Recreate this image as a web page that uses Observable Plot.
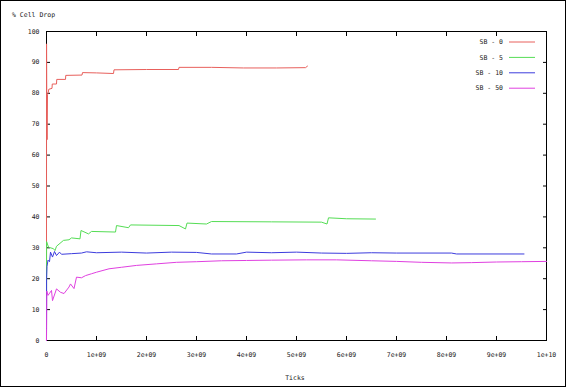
<!DOCTYPE html>
<html><head><meta charset="utf-8">
<script src="https://cdn.jsdelivr.net/npm/d3@7"></script>
<script src="https://cdn.jsdelivr.net/npm/@observablehq/plot@0.6"></script>
<style>
html,body{margin:0;padding:0;background:#fff;}
#wrap{position:relative;width:566px;height:387px;overflow:hidden;}
#border{position:absolute;left:0;top:0;width:566px;height:387px;box-sizing:border-box;border:1px solid #000;pointer-events:none;}
</style></head><body><div id="wrap"><div id="border"></div></div>
<script>
const seriesNames = ["SB - 0", "SB - 5", "SB - 10", "SB - 50"];
const seriesColors = ["#e8605c", "#55dd55", "#3c3cdd", "#e040e0"];

const sb0Ticks = [0, 0.001e9, 0.006e9, 0.012e9, 0.02e9, 0.035e9, 0.045e9, 0.11e9, 0.115e9, 0.2e9, 0.205e9, 0.38e9, 0.385e9, 0.71e9, 0.72e9, 1.0e9, 1.34e9, 1.35e9, 2.0e9, 2.64e9, 2.65e9, 3.3e9, 3.94e9, 4.6e9, 5.18e9, 5.22e9];
const sb0Drop  = [0, 96, 72, 65, 79.5, 80.3, 81.3, 81.6, 83.0, 83.0, 84.5, 84.5, 85.8, 85.9, 86.7, 86.6, 86.4, 87.6, 87.7, 87.7, 88.4, 88.4, 88.2, 88.2, 88.3, 88.8];

const sb5Ticks = [0, 0.002e9, 0.04e9, 0.14e9, 0.17e9, 0.2e9, 0.34e9, 0.45e9, 0.5e9, 0.67e9, 0.69e9, 0.84e9, 0.9e9, 1.38e9, 1.40e9, 1.64e9, 1.68e9, 2.65e9, 2.78e9, 2.81e9, 3.2e9, 3.3e9, 4.5e9, 5.5e9, 5.61e9, 5.64e9, 6.0e9, 6.58e9];
const sb5Drop  = [0, 32, 30.2, 29.7, 29.1, 30.5, 32.4, 32.6, 33.2, 32.9, 35.6, 34.5, 35.3, 35.1, 37.2, 36.5, 37.4, 37.2, 36.1, 38.0, 37.7, 38.5, 38.4, 38.3, 37.7, 39.7, 39.4, 39.3];

const sb10Ticks = [0, 0.002e9, 0.01e9, 0.03e9, 0.06e9, 0.08e9, 0.12e9, 0.16e9, 0.2e9, 0.26e9, 0.3e9, 0.5e9, 0.7e9, 0.8e9, 1.0e9, 1.5e9, 2.0e9, 2.5e9, 3.0e9, 3.3e9, 3.8e9, 4.0e9, 4.5e9, 5.0e9, 5.5e9, 6.0e9, 6.5e9, 7.0e9, 8.1e9, 8.2e9, 9.55e9];
const sb10Drop  = [0, 20, 24, 26, 25.5, 28.6, 27, 28.8, 27.5, 28.6, 27.9, 28.1, 28.3, 28.7, 28.4, 28.6, 28.3, 28.6, 28.5, 28.0, 28.0, 28.6, 28.4, 28.6, 28.3, 28.2, 28.4, 28.3, 28.3, 28.0, 28.0];

const sb50Ticks = [0, 0.002e9, 0.006e9, 0.03e9, 0.1e9, 0.12e9, 0.2e9, 0.28e9, 0.35e9, 0.45e9, 0.48e9, 0.55e9, 0.6e9, 0.7e9, 0.78e9, 0.9e9, 1.0e9, 1.25e9, 1.5e9, 1.8e9, 2.2e9, 2.6e9, 3.0e9, 3.5e9, 4.0e9, 4.5e9, 5.2e9, 5.8e9, 6.5e9, 7.0e9, 7.5e9, 8.1e9, 8.5e9, 9.0e9, 9.5e9, 10e9];
const sb50Drop  = [0, 4, 16, 14.6, 16.2, 12.9, 16.7, 15.6, 15.2, 17.3, 18.3, 16.8, 20.5, 20.3, 21.0, 21.6, 22.1, 23.2, 23.7, 24.3, 24.8, 25.3, 25.5, 25.8, 25.9, 26.0, 26.1, 26.1, 25.8, 25.6, 25.3, 25.1, 25.2, 25.4, 25.5, 25.6];

const xTicks = [0, 1e9, 2e9, 3e9, 4e9, 5e9, 6e9, 7e9, 8e9, 9e9, 1e10];
const xTickLabels = ["0", "1e+09", "2e+09", "3e+09", "4e+09", "5e+09", "6e+09", "7e+09", "8e+09", "9e+09", "1e+10"];
const yTicks = [0, 10, 20, 30, 40, 50, 60, 70, 80, 90, 100];
const yTickLabels = ["0", "10", "20", "30", "40", "50", "60", "70", "80", "90", "100"];
const yTitle = "% Cell Drop";
const xTitle = "Ticks";

const allX = [sb0Ticks, sb5Ticks, sb10Ticks, sb50Ticks];
const allY = [sb0Drop, sb5Drop, sb10Drop, sb50Drop];
const rows = [];
seriesNames.forEach((name, s) => {
  allX[s].forEach((x, i) => rows.push({series: name, x, y: allY[s][i]}));
});

const font = "'DejaVu Sans Mono', monospace";
const plot = Plot.plot({
  width: 566, height: 387,
  marginLeft: 46, marginRight: 20, marginTop: 31, marginBottom: 47,
  style: {fontFamily: font, fontSize: "6.5px", background: "transparent", color: "#222"},
  x: {domain: [0, 1e10]},
  y: {domain: [0, 100]},
  color: {domain: seriesNames, range: seriesColors},
  marks: [
    Plot.frame({stroke: "#000", strokeWidth: 1}),
    Plot.axisX(xTicks, {anchor: "bottom", tickSize: -4, tickPadding: 16, tickFormat: d => xTickLabels[xTicks.indexOf(d)], label: null, stroke: "#000"}),
    Plot.axisX(xTicks, {anchor: "top", tickSize: -4, tickFormat: () => "", label: null, stroke: "#000"}),
    Plot.axisY(yTicks, {anchor: "left", tickSize: -4, tickPadding: 11, tickFormat: d => yTickLabels[yTicks.indexOf(d)], label: null, stroke: "#000"}),
    Plot.axisY(yTicks, {anchor: "right", tickSize: -4, tickFormat: () => "", label: null, stroke: "#000"}),
    Plot.line(rows, {x: "x", y: "y", z: "series", stroke: "series", strokeWidth: 1, curve: "linear"})
  ]
});
document.getElementById("wrap").prepend(plot);

const svg = d3.select(plot);
svg.append("text").attr("x", 12).attr("y", 15).attr("dy", "0.35em").attr("text-anchor", "start")
  .style("font-family", font).style("font-size", "6.5px").attr("fill", "#222").text(yTitle);
svg.append("text").attr("x", 295).attr("y", 378).attr("dy", "0.35em").attr("text-anchor", "middle")
  .style("font-family", font).style("font-size", "6.5px").attr("fill", "#222").text(xTitle);
const leg = svg.append("g");
seriesNames.forEach((name, i) => {
  const yy = 42 + i * 15.4;
  leg.append("text").attr("x", 503).attr("y", yy).attr("dy", "0.35em").attr("text-anchor", "end")
    .style("font-family", font).style("font-size", "6.5px").attr("fill", "#222").text(name);
  leg.append("line").attr("x1", 509).attr("x2", 535).attr("y1", yy).attr("y2", yy)
    .attr("stroke", seriesColors[i]).attr("stroke-width", 1);
});
</script></body></html>
